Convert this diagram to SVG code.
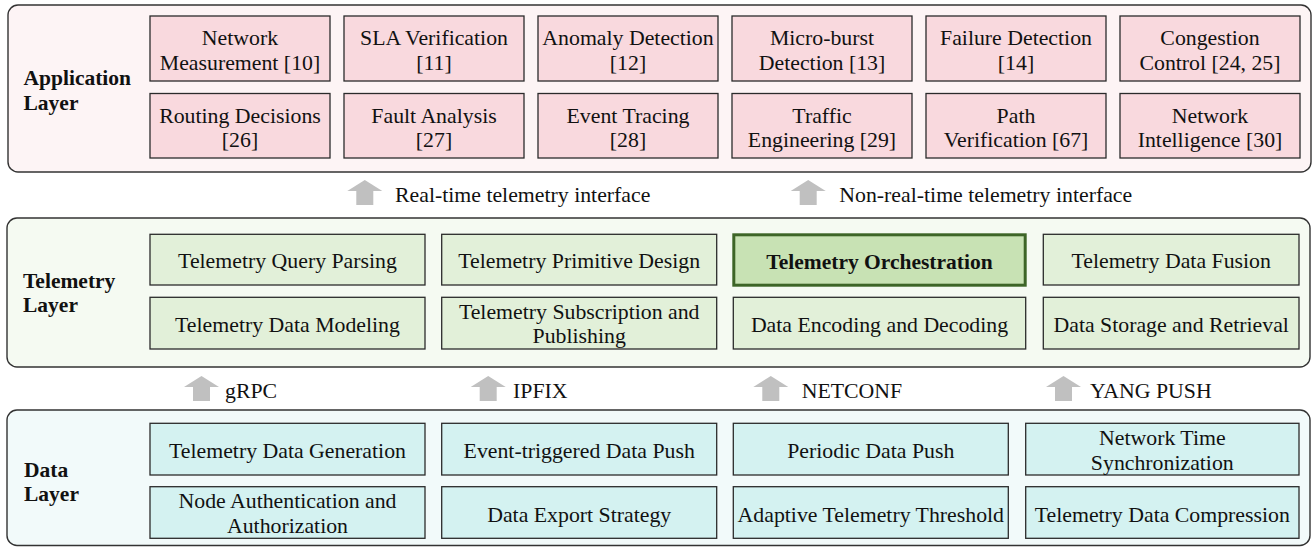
<svg xmlns="http://www.w3.org/2000/svg" width="1314" height="547" viewBox="0 0 1314 547" font-family="'Liberation Serif', 'DejaVu Serif', serif">
  <style>
    text { font-family: 'Liberation Serif', 'DejaVu Serif', serif; font-size: 21.8px; fill: #111; }
    .lbl { font-weight: bold; font-size: 21.5px; }
    .c { text-anchor: middle; }
    .layer { stroke: #333; stroke-width: 1.4; }
    .box { stroke: #2b2b2b; stroke-width: 1.3; }
    .app-layer { fill: #fdf4f5; }
    .app { fill: #f9d9de; }
    .tel-layer { fill: #f5faf2; }
    .tel { fill: #e2f0d9; }
    .dat-layer { fill: #f2fafa; }
    .dat { fill: #d4f2f1; }
    .hl { fill: #c8e2b4; stroke: #3d6527; stroke-width: 3; }
    .arrow { fill: #c0c0c0; }
  </style>
  <defs>
    <!-- upward block arrow, 35 wide, 25 tall -->
    <path id="up" d="M17.5 0 L35 11 L26 11 L26 25 L9 25 L9 11 L0 11 Z"/>
  </defs>

  <!-- layer containers -->
  <g id="application-layer">
    <rect class="layer app-layer" x="8" y="5" width="1303" height="167" rx="10"/>
    <text class="lbl" x="23.5" y="85">Application</text>
    <text class="lbl" x="23.5" y="110">Layer</text>
  </g>
  <g id="telemetry-layer">
    <rect class="layer tel-layer" x="7" y="218" width="1303" height="149" rx="10"/>
    <text class="lbl" x="23" y="288">Telemetry</text>
    <text class="lbl" x="23" y="312">Layer</text>
  </g>
  <g id="data-layer">
    <rect class="layer dat-layer" x="7" y="410" width="1303" height="135.5" rx="10"/>
    <text class="lbl" x="24" y="477">Data</text>
    <text class="lbl" x="24" y="500.5">Layer</text>
  </g>

  <!-- application layer nodes -->
  <g id="app-network-measurement">
    <rect class="box app" x="150" y="16" width="180" height="65"/>
    <text class="c" x="240" y="45">Network</text>
    <text class="c" x="240" y="70">Measurement [10]</text>
  </g>
  <g id="app-sla-verification">
    <rect class="box app" x="344" y="16" width="180" height="65"/>
    <text class="c" x="434" y="45">SLA Verification</text>
    <text class="c" x="434" y="70">[11]</text>
  </g>
  <g id="app-anomaly-detection">
    <rect class="box app" x="538" y="16" width="180" height="65"/>
    <text class="c" x="628" y="45">Anomaly Detection</text>
    <text class="c" x="628" y="70">[12]</text>
  </g>
  <g id="app-micro-burst">
    <rect class="box app" x="732" y="16" width="180" height="65"/>
    <text class="c" x="822" y="45">Micro-burst</text>
    <text class="c" x="822" y="70">Detection [13]</text>
  </g>
  <g id="app-failure-detection">
    <rect class="box app" x="926" y="16" width="180" height="65"/>
    <text class="c" x="1016" y="45">Failure Detection</text>
    <text class="c" x="1016" y="70">[14]</text>
  </g>
  <g id="app-congestion-control">
    <rect class="box app" x="1120" y="16" width="180" height="65"/>
    <text class="c" x="1210" y="45">Congestion</text>
    <text class="c" x="1210" y="70">Control [24, 25]</text>
  </g>
  <g id="app-routing-decisions">
    <rect class="box app" x="150" y="93.5" width="180" height="64.5"/>
    <text class="c" x="240" y="122.5">Routing Decisions</text>
    <text class="c" x="240" y="147">[26]</text>
  </g>
  <g id="app-fault-analysis">
    <rect class="box app" x="344" y="93.5" width="180" height="64.5"/>
    <text class="c" x="434" y="122.5">Fault Analysis</text>
    <text class="c" x="434" y="147">[27]</text>
  </g>
  <g id="app-event-tracing">
    <rect class="box app" x="538" y="93.5" width="180" height="64.5"/>
    <text class="c" x="628" y="122.5">Event Tracing</text>
    <text class="c" x="628" y="147">[28]</text>
  </g>
  <g id="app-traffic-engineering">
    <rect class="box app" x="732" y="93.5" width="180" height="64.5"/>
    <text class="c" x="822" y="122.5">Traffic</text>
    <text class="c" x="822" y="147">Engineering [29]</text>
  </g>
  <g id="app-path-verification">
    <rect class="box app" x="926" y="93.5" width="180" height="64.5"/>
    <text class="c" x="1016" y="122.5">Path</text>
    <text class="c" x="1016" y="147">Verification [67]</text>
  </g>
  <g id="app-network-intelligence">
    <rect class="box app" x="1120" y="93.5" width="180" height="64.5"/>
    <text class="c" x="1210" y="122.5">Network</text>
    <text class="c" x="1210" y="147">Intelligence [30]</text>
  </g>

  <!-- telemetry layer nodes -->
  <g id="tel-query-parsing">
    <rect class="box tel" x="150" y="234.3" width="275" height="50.7"/>
    <text class="c" x="287.5" y="267.8">Telemetry Query Parsing</text>
  </g>
  <g id="tel-primitive-design">
    <rect class="box tel" x="441.7" y="234.3" width="275" height="50.7"/>
    <text class="c" x="579.2" y="267.8">Telemetry Primitive Design</text>
  </g>
  <g id="tel-orchestration">
    <rect class="hl" x="733.8" y="234.8" width="291.4" height="50.4"/>
    <text class="c lbl" x="879.5" y="268.5">Telemetry Orchestration</text>
  </g>
  <g id="tel-data-fusion">
    <rect class="box tel" x="1043.3" y="234.3" width="255.7" height="50.7"/>
    <text class="c" x="1171.2" y="267.8">Telemetry Data Fusion</text>
  </g>
  <g id="tel-data-modeling">
    <rect class="box tel" x="150" y="297.3" width="275" height="51.7"/>
    <text class="c" x="287.5" y="331.5">Telemetry Data Modeling</text>
  </g>
  <g id="tel-subscription-publishing">
    <rect class="box tel" x="441.7" y="297.3" width="275" height="51.7"/>
    <text class="c" x="579.2" y="318.5">Telemetry Subscription and</text>
    <text class="c" x="579.2" y="343.3">Publishing</text>
  </g>
  <g id="tel-encoding-decoding">
    <rect class="box tel" x="733.3" y="297.3" width="292.4" height="51.7"/>
    <text class="c" x="879.5" y="331.5">Data Encoding and Decoding</text>
  </g>
  <g id="tel-storage-retrieval">
    <rect class="box tel" x="1043.3" y="297.3" width="255.7" height="51.7"/>
    <text class="c" x="1171.2" y="331.5">Data Storage and Retrieval</text>
  </g>

  <!-- data layer nodes -->
  <g id="dat-generation">
    <rect class="box dat" x="150" y="423.3" width="275" height="51.7"/>
    <text class="c" x="287.5" y="458">Telemetry Data Generation</text>
  </g>
  <g id="dat-event-push">
    <rect class="box dat" x="441.7" y="423.3" width="275" height="51.7"/>
    <text class="c" x="579.2" y="458">Event-triggered Data Push</text>
  </g>
  <g id="dat-periodic-push">
    <rect class="box dat" x="733.3" y="423.3" width="275" height="51.7"/>
    <text class="c" x="870.8" y="458">Periodic Data Push</text>
  </g>
  <g id="dat-time-sync">
    <rect class="box dat" x="1025.7" y="423.3" width="273.3" height="51.7"/>
    <text class="c" x="1162.3" y="445">Network Time</text>
    <text class="c" x="1162.3" y="470">Synchronization</text>
  </g>
  <g id="dat-authentication">
    <rect class="box dat" x="150" y="486.7" width="275" height="51.6"/>
    <text class="c" x="287.5" y="508.3">Node Authentication and</text>
    <text class="c" x="287.5" y="533.3">Authorization</text>
  </g>
  <g id="dat-export-strategy">
    <rect class="box dat" x="441.7" y="486.7" width="275" height="51.6"/>
    <text class="c" x="579.2" y="521.7">Data Export Strategy</text>
  </g>
  <g id="dat-adaptive-threshold">
    <rect class="box dat" x="733.3" y="486.7" width="275" height="51.6"/>
    <text class="c" x="870.8" y="521.7">Adaptive Telemetry Threshold</text>
  </g>
  <g id="dat-compression">
    <rect class="box dat" x="1025.7" y="486.7" width="273.3" height="51.6"/>
    <text class="c" x="1162.3" y="521.7">Telemetry Data Compression</text>
  </g>

  <!-- interfaces between layers -->
  <g id="connectors">
    <use href="#up" class="arrow" x="347.3" y="180"/>
    <text x="395" y="201.6">Real-time telemetry interface</text>
    <use href="#up" class="arrow" x="790.7" y="180"/>
    <text x="839.3" y="201.6">Non-real-time telemetry interface</text>

    <use href="#up" class="arrow" x="184" y="376"/>
    <text x="225" y="397.5">gRPC</text>
    <use href="#up" class="arrow" x="470.7" y="376"/>
    <text x="513" y="397.5">IPFIX</text>
    <use href="#up" class="arrow" x="753.3" y="376"/>
    <text x="801.7" y="397.5">NETCONF</text>
    <use href="#up" class="arrow" x="1046" y="376"/>
    <text x="1090" y="397.5">YANG PUSH</text>
  </g>
</svg>
